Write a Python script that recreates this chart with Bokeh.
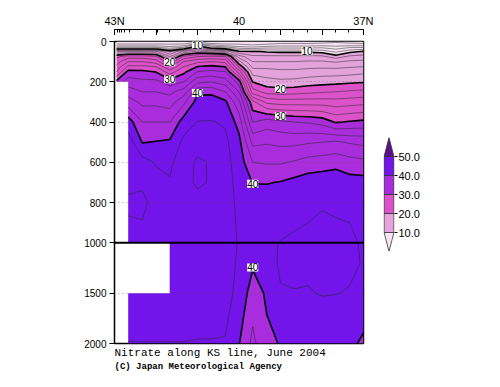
import numpy as np
import contourpy
from bokeh.plotting import figure
from bokeh.layouts import column, row
from bokeh.models import (Range1d, FixedTicker, Label, LabelSet, ColumnDataSource,
                          Title, NumeralTickFormatter, Span)
from bokeh.embed import file_html
from bokeh.resources import INLINE
from bokeh.core.properties import value
import bokeh.plotting.contour as bpc

# missing samples mask whole grid cells (no corner triangles)
_orig_cg = contourpy.contour_generator


def _cg_no_corner(*args, **kwargs):
    kwargs.setdefault("corner_mask", False)
    return _orig_cg(*args, **kwargs)


contourpy.contour_generator = _cg_no_corner
if hasattr(bpc, "contour_generator"):
    bpc.contour_generator = _cg_no_corner

nan = float("nan")

# ---------------- data ----------------
depths = [0, 10, 20, 30, 50, 75, 100, 125, 150, 200, 250, 300, 400, 500,
          600, 700, 800, 1000, 1200, 1500, 2000]

station_lats = [42.95, 42.67, 42.33, 42.0, 41.67, 41.33, 41.0, 40.67, 40.33,
                40.0, 39.67, 39.33, 39.0, 38.67, 38.33, 38.0, 37.67, 37.33, 37.0]

# nitrate profiles (umol/kg) at each station, one value per depth
st_4295 = [0.5, 1.5, 3.5, 6.5, 16.5, 21.5, 23.0, 24.5, 26.0, 30.5,
           nan, nan, nan, nan, nan, nan, nan, nan, nan, nan, nan]
st_4267 = [0.5, 1.5, 3.5, 6.5, 16.5, 23.0, 26.0, 28.5, 30.6, 33.0, 35.0, 37.0,
           41.0, 43.0, 43.4, 43.7, 44.2, 43.6, nan, 42.5, 41.98]
st_4233 = [0.5, 1.5, 3.5, 6.5, 16.5, 23.0, 26.0, 28.5, 30.5, 32.5, 34.0, 35.5,
           38.0, 39.9, 42.8, 43.8, 44.3, 43.6, nan, 42.6, 41.98]
st_4200 = [0.5, 1.5, 3.5, 6.5, 16.5, 22.5, 25.0, 28.0, 29.9, 32.5, 34.0, 35.5,
           38.0, 40.1, 41.8, 42.8, 43.5, 43.3, nan, 42.6, 41.98]
st_4167 = [0.5, 1.5, 3.0, 5.0, 11.5, 16.0, 20.5, 24.0, 27.0, 31.0, 33.5, 35.0,
           38.0, 40.3, 41.5, 42.2, 43.0, 43.2, 42.8, 42.6, 41.98]
st_4133 = [0.5, 1.5, 3.5, 6.5, 16.5, 22.5, 26.0, 28.0, 29.5, 32.0, 35.0, 37.5,
           41.0, 42.5, 43.4, 43.6, 43.4, 43.2, 43.0, 42.6, 41.98]
st_4100 = [1.0, 4.0, 9.0, 13.0, 18.5, 24.0, 27.5, 30.1, 32.0, 35.5, 39.6, 40.8,
           42.05, 43.5, 44.2, 44.2, 43.6, 43.3, 43.0, 42.5, 41.95]
st_4067 = [0.5, 2.0, 5.0, 8.5, 17.5, 24.5, 28.0, 30.5, 32.5, 36.0, 39.7, 40.7,
           42.1, 43.2, 43.9, 43.9, 43.4, 43.2, 43.0, 42.5, 41.95]
st_4033 = [0.5, 1.5, 3.5, 7.0, 16.0, 24.0, 27.5, 29.9, 32.0, 35.0, 38.0, 40.4,
           41.8, 42.4, 42.6, 42.6, 42.6, 42.6, 42.6, 42.6, 41.9]
st_4000 = [0.5, 1.5, 3.0, 5.0, 10.5, 15.0, 18.5, 21.5, 25.0, 31.0, 34.0, 36.5,
           39.2, 40.6, 41.2, 41.5, 41.7, 41.9, 41.8, 41.5, 40.1]
st_3967 = [0.5, 1.0, 2.5, 4.5, 10.2, 12.5, 14.0, 15.5, 17.0, 19.9, 23.0, 28.5,
           32.0, 35.5, 38.0, 39.95, 40.8, 41.5, 40.3, 39.0, 37.5]
st_3933 = [0.8, 1.5, 3.0, 5.5, 9.8, 12.5, 14.0, 15.5, 16.8, 18.8, 21.2, 25.5,
           33.0, 35.8, 37.8, 39.9, 41.0, 41.8, 41.7, 40.3, 39.6]
st_3900 = [1.0, 2.0, 3.5, 5.5, 9.5, 12.5, 14.0, 15.3, 16.5, 18.5, 21.0, 25.0,
           32.5, 35.5, 37.8, 40.1, 41.2, 42.05, 42.1, 41.95, 40.1]
st_3867 = [1.0, 2.0, 3.5, 5.5, 9.5, 12.5, 14.0, 15.3, 16.5, 18.6, 21.2, 25.0,
           32.0, 35.5, 38.2, 40.6, 41.5, 42.2, 42.3, 41.95, 40.4]
st_3833 = [1.0, 2.0, 3.5, 5.5, 9.5, 12.6, 14.2, 15.5, 16.8, 19.0, 21.5, 25.0,
           31.8, 35.8, 38.8, 41.0, 41.7, 42.3, 42.3, 41.9, 40.5]
st_3800 = [1.2, 2.2, 3.8, 5.8, 9.2, 12.5, 14.2, 15.6, 17.0, 19.2, 21.8, 25.0,
           31.3, 36.0, 39.0, 41.2, 41.9, 42.4, 42.4, 42.1, 40.4]
st_3767 = [1.5, 2.5, 3.5, 5.0, 7.5, 11.0, 13.8, 15.5, 17.0, 19.4, 22.0, 24.8,
           29.8, 36.3, 39.3, 41.3, 41.7, 42.5, 42.5, 42.05, 40.3]
st_3733 = [1.2, 2.2, 3.8, 6.0, 9.4, 12.5, 14.3, 15.8, 17.2, 19.6, 22.3, 25.0,
           30.2, 35.8, 38.8, 40.8, 41.7, 42.3, 42.3, 41.9, 40.5]
st_3700 = [1.0, 2.0, 3.8, 6.0, 10.2, 12.8, 14.5, 16.0, 17.5, 19.8, 22.5, 25.3,
           30.5, 35.5, 38.5, 40.8, 41.2, 41.8, 41.9, 41.5, 39.6]

profiles = [st_4295, st_4267, st_4233, st_4200, st_4167, st_4133, st_4100,
            st_4067, st_4033, st_4000, st_3967, st_3933, st_3900, st_3867,
            st_3833, st_3800, st_3767, st_3733, st_3700]

fill_levels = [0, 10, 20, 30, 40, 50, 60]
fill_colors = ["#f8e4f4", "#e5a3dc", "#dc52c8", "#a92ddc", "#7315ea", "#5f0e8a"]
thick_levels = [10, 20, 30, 40]
thin_levels = [2, 4, 6, 8, 12, 14, 16, 18, 22, 24, 26, 28, 32, 34, 36, 38,
               42, 44, 46, 48]

lat_major = [43, 42, 41, 40, 39, 38, 37]
lat_major_labels = ["43N", "", "", "40", "", "", "37N"]
lat_station_ticks = [42.99, 42.93, 42.88, 42.82, 42.76, 42.65, 42.29, 41.97,
                     41.67, 41.34, 41.0, 40.69, 40.37, 40.0, 39.68, 39.36,
                     39.0, 38.68, 38.36, 38.0, 37.67, 37.35, 37.0]
depth_ticks = [0, 200, 400, 600, 800, 1000, 1500, 2000]
depth_grid = [200, 400, 600, 800, 1500]
break_depth = 1000          # below this depth the axis is drawn at half scale
deep_scale = 0.5
cbar_ticks = [10, 20, 30, 40, 50]

label_lat = [41.0, 38.36, 41.67, 39.0, 41.67, 39.0, 41.0, 39.67, 39.67]
label_depth = [15, 48, 103, 235, 187, 370, 256, 707, 1245]
label_text = ["10", "10", "20", "20", "30", "30", "40", "40", "40"]


def to_axis(dep):
    dep = np.asarray(dep, dtype=float)
    return np.where(dep <= break_depth, dep,
                    break_depth + (dep - break_depth) * deep_scale)


# ---------------- grid ----------------
x = np.array(station_lats)[::-1]
z = np.array(profiles, dtype=float).T[:, ::-1]   # (depth, lat ascending)
y = to_axis(depths)

FONT = "Liberation Sans"
x_range = Range1d(43, 37)

# ---------------- top axis strip ----------------
ax = figure(x_range=x_range, y_range=Range1d(0, 1), frame_width=249, frame_height=6,
            min_border_left=114, min_border_right=10, min_border_top=29,
            min_border_bottom=0, x_axis_location="above", y_axis_location=None,
            output_backend="svg", toolbar_location=None)
ax.outline_line_color = None
ax.grid.visible = False
ax.xaxis.ticker = FixedTicker(ticks=lat_major, minor_ticks=lat_station_ticks)
ax.xaxis.major_label_overrides = {k: v for k, v in zip(lat_major, lat_major_labels)}
ax.xaxis.major_tick_in = 6
ax.xaxis.major_tick_out = 0
ax.xaxis.minor_tick_in = 3
ax.xaxis.minor_tick_out = 0
ax.xaxis.axis_line_color = "black"
ax.xaxis.major_label_standoff = 3
ax.xaxis.major_label_text_font = FONT
ax.xaxis.major_label_text_font_size = "11px"
ax.xaxis.major_label_text_color = "black"

# ---------------- section ----------------
y_top, y_bottom = to_axis([depths[0], depths[-1]])
p = figure(x_range=x_range, y_range=Range1d(float(y_bottom), float(y_top)),
           frame_width=249, frame_height=302, min_border_left=114,
           min_border_right=10, min_border_top=6, min_border_bottom=34,
           x_axis_location=None, output_backend="svg", toolbar_location=None)
p.outline_line_color = "black"
p.outline_line_width = 1.5
p.xgrid.visible = False
p.ygrid.ticker = FixedTicker(ticks=list(to_axis(depth_grid)))
p.ygrid.grid_line_color = "#555555"
p.ygrid.grid_line_alpha = 0.55
p.ygrid.grid_line_dash = "1 3"
p.ygrid.level = "annotation"

tick_pos = [float(v) for v in to_axis(depth_ticks)]
p.yaxis.ticker = FixedTicker(ticks=tick_pos)
p.yaxis.major_label_overrides = {pos: str(dep) for pos, dep in zip(tick_pos, depth_ticks)}
p.yaxis.major_tick_out = 5
p.yaxis.major_tick_in = 0
p.yaxis.minor_tick_line_color = None
p.yaxis.axis_line_color = None
p.yaxis.major_label_standoff = 3
p.yaxis.major_label_text_font = FONT
p.yaxis.major_label_text_font_size = "10px"
p.yaxis.major_label_text_color = "black"

p.contour(x, y, z, fill_levels, fill_color=fill_colors)
p.contour(x, y, z, thin_levels, line_color="#262626", line_width=0.5)
p.contour(x, y, z, thick_levels, line_color="black", line_width=1.6)

p.add_layout(Span(location=float(to_axis(break_depth)), dimension="width",
                  line_color="black", line_width=2))

src = ColumnDataSource(dict(lat=label_lat, depth=to_axis(label_depth), text=label_text))
p.add_layout(LabelSet(x="lat", y="depth", text="text", source=src,
                      text_align="center", text_baseline="middle",
                      text_font=value(FONT), text_font_size="10px",
                      text_color="black", background_fill_color="white"))

p.add_layout(Label(x=station_lats[0] + 0.05, y=float(y_top), x_offset=-38, text="(m)",
                   text_align="center", text_baseline="middle", text_font=FONT,
                   text_font_size="12px", text_color="black"))

p.add_layout(Title(text="Nitrate along KS line, June 2004", align="left",
                   text_font="Liberation Mono", text_font_size="11px",
                   text_font_style="normal", text_color="black", standoff=2), "below")
p.add_layout(Title(text="(C) Japan Meteorological Agency", align="left",
                   text_font="Liberation Mono", text_font_size="9px",
                   text_font_style="bold", text_color="black", standoff=1), "below")

# ---------------- colour bar ----------------
cb = figure(x_range=Range1d(-0.06, 1.06), y_range=Range1d(0, 60), frame_width=11,
            frame_height=114, min_border_left=10, min_border_right=36,
            min_border_top=137, min_border_bottom=0, x_axis_location=None,
            y_axis_location="right", output_backend="svg", toolbar_location=None)
cb.outline_line_color = None
cb.grid.visible = False
cb.quad(left=0, right=1, bottom=fill_levels[1:5], top=fill_levels[2:6],
        fill_color=fill_colors[1:5], line_color="#333333", line_width=0.8)
cb.patches(xs=[[0, 0.5, 1], [0, 0.5, 1]],
           ys=[[fill_levels[1], fill_levels[0], fill_levels[1]],
               [fill_levels[5], fill_levels[6], fill_levels[5]]],
           fill_color=[fill_colors[0], fill_colors[5]], line_color="#333333",
           line_width=0.8)
cb.yaxis.ticker = FixedTicker(ticks=cbar_ticks)
cb.yaxis.formatter = NumeralTickFormatter(format="0.0")
cb.yaxis.axis_line_color = None
cb.yaxis.major_tick_out = 3
cb.yaxis.major_tick_in = 0
cb.yaxis.minor_tick_line_color = None
cb.yaxis.major_label_standoff = 1
cb.yaxis.major_label_text_font = FONT
cb.yaxis.major_label_text_font_size = "11px"
cb.yaxis.major_label_text_color = "black"

layout = row(column(ax, p), cb)
open("out.html", "w").write(file_html(layout, INLINE))
